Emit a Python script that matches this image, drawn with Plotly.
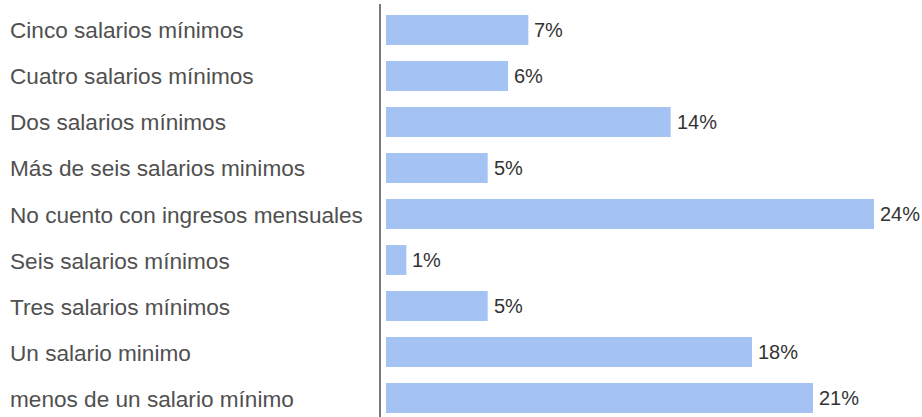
import plotly.graph_objects as go

categories = [
    "Cinco salarios mínimos",
    "Cuatro salarios mínimos",
    "Dos salarios mínimos",
    "Más de seis salarios minimos",
    "No cuento con ingresos mensuales",
    "Seis salarios mínimos",
    "Tres salarios mínimos",
    "Un salario minimo",
    "menos de un salario mínimo",
]
percent = [7, 6, 14, 5, 24, 1, 5, 18, 21]
value_labels = [f"{v}%" for v in percent]

W, H = 922, 417
left, right, top, bottom = 381, 0, 4, 0

bar_color = "#a4c2f4"
label_color = "#505050"
value_color = "#333333"
font_family = "Liberation Sans, Arial, sans-serif"

fig = go.Figure(
    go.Bar(
        x=percent,
        y=categories,
        orientation="h",
        marker=dict(color=bar_color, line=dict(width=0)),
        width=0.65,
        hoverinfo="x+y",
    )
)

# value labels just past the end of each bar
for c, v, t in zip(categories, percent, value_labels):
    fig.add_annotation(
        x=v,
        y=c,
        xref="x",
        yref="y",
        text=t,
        showarrow=False,
        xanchor="left",
        yanchor="middle",
        xshift=4,
        font=dict(size=20, color=value_color, family=font_family),
    )

# category labels, left aligned in the left margin
plot_w = W - left - right
for c in categories:
    fig.add_annotation(
        x=-(left - 8) / plot_w,
        xref="paper",
        y=c,
        yref="y",
        text=c,
        showarrow=False,
        xanchor="left",
        yanchor="middle",
        yshift=-1,
        font=dict(size=22.6, color=label_color, family=font_family),
    )

fig.update_layout(
    width=W,
    height=H,
    margin=dict(l=left, r=right, t=top, b=bottom, pad=0),
    plot_bgcolor="white",
    paper_bgcolor="white",
    showlegend=False,
    xaxis=dict(
        range=[-0.246, 26.36],
        showgrid=False,
        zeroline=False,
        showticklabels=False,
        showline=False,
    ),
    yaxis=dict(
        categoryorder="array",
        categoryarray=categories,
        range=[8.413, -0.565],
        showticklabels=False,
        showgrid=False,
        showline=True,
        linecolor="#7a7a7a",
        linewidth=2,
        ticks="",
    ),
)

fig.write_html("out.html")
